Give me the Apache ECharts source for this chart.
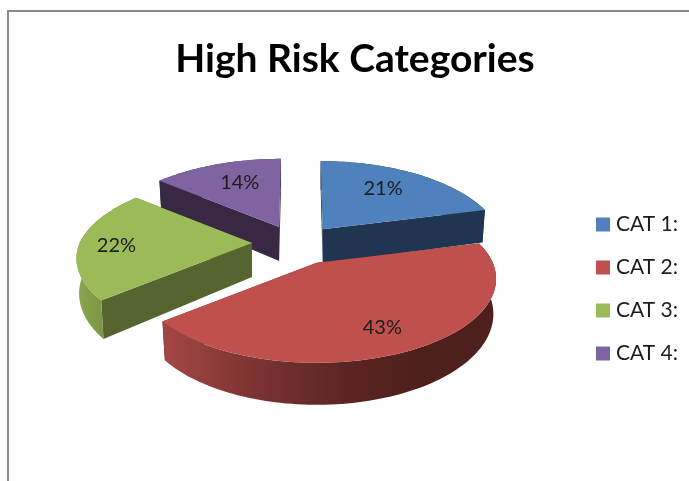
<!DOCTYPE html>
<html>
<head>
<meta charset="utf-8">
<style>html,body{margin:0;padding:0;background:#fff}#c{width:689px;height:481px}</style>
<script src="https://cdn.jsdelivr.net/npm/echarts@6/dist/echarts.min.js"></script>
</head>
<body>
<div id="c"></div>
<script>
const titleText = 'High Risk Categories';
const categories = ['CAT 1:', 'CAT 2:', 'CAT 3:', 'CAT 4:'];
const percentages = [21, 43, 22, 14];

// Drawing style and projection of the tilted pie
const topColors = ['#4f81bd', '#c0504d', '#9bbb59', '#8064a2'];
const cutColors = ['#1f3552', '#4e1f1d', '#566430', '#382843'];
const explodeX = [37, 37, 48, 49];
const liftY = [0, 0, 2, 0];
const sliceScale = [1, 1, 0.98, 1];
const labelRadius = [0.68, 0.72, 0.77, 0.68];
const labelNudge = [[-5, -1], [0, 6], [0, 3], [5, 0]];
const pie = {cx: 300, cy: 245, explodeY: 20, rx: 176, ry: 81, persp: 0.19, depth: 34, shrink: 0.985, tilt: 0.09};
const fontName = 'Lato';

const wallFills = [
  '#1f3552',
  {type: 'linear', x: 163, y: 0, x2: 420, y2: 0, global: true, colorStops: [
    {offset: 0, color: '#a34745'}, {offset: 0.35, color: '#7c3432'},
    {offset: 0.7, color: '#5c2524'}, {offset: 1, color: '#4e1f1d'}]},
  {type: 'linear', x: 77, y: 0, x2: 105, y2: 0, global: true, colorStops: [
    {offset: 0, color: '#8aa64f'}, {offset: 1, color: '#7a9445'}]},
  '#382843'
];

const total = percentages.reduce((a, b) => a + b, 0);
const startFractions = [];
percentages.reduce((sum, v, i) => { startFractions[i] = sum / total; return sum + v; }, 0);

function sliceVertex(i) {
  const mid = (startFractions[i] + percentages[i] / total / 2) * 2 * Math.PI;
  return [pie.cx + explodeX[i] * Math.sin(mid), pie.cy - pie.explodeY * Math.cos(mid) - liftY[i]];
}
function project(v, angle, r) {
  const w = 1 + pie.persp * Math.cos(angle) * r;
  const dy = -pie.ry * Math.cos(angle) * r / w;
  const lean = dy < 0 ? -(pie.cx - v[0]) * dy / 68 * pie.tilt : 0;
  const dx = pie.rx * Math.sin(angle) * r / w + lean;
  return [v[0] + dx, v[1] + dy, w];
}
function drop(v, p) {
  return [v[0] + (p[0] - v[0]) * pie.shrink, p[1] + pie.depth / p[2]];
}
function renderSlice(i) {
  return function () {
    const v = sliceVertex(i);
    const a0 = startFractions[i] * 2 * Math.PI;
    const a1 = a0 + percentages[i] / total * 2 * Math.PI;
    const steps = Math.max(8, Math.round((a1 - a0) / (Math.PI / 120)));
    const arc = [];
    for (let k = 0; k <= steps; k++) arc.push(project(v, a0 + (a1 - a0) * k / steps, sliceScale[i]));
    const arcTop = arc.map(p => [p[0], p[1]]);
    const arcBottom = arc.map(p => drop(v, p));
    const vBottom = [v[0], v[1] + pie.depth];
    const first = arcTop[0], last = arcTop[steps];
    const mid = (a0 + a1) / 2;
    const lp = project(v, mid, labelRadius[i]);
    return {
      type: 'group',
      children: [
        {type: 'polygon', shape: {points: [v, first, arcBottom[0], vBottom]}, style: {fill: cutColors[i]}},
        {type: 'polygon', shape: {points: [v, last, arcBottom[steps], vBottom]}, style: {fill: cutColors[i]}},
        {type: 'polygon', shape: {points: arcTop.concat(arcBottom.slice().reverse())},
          style: {fill: wallFills[i]}},
        {type: 'polygon', shape: {points: [v].concat(arcTop)}, style: {fill: topColors[i]}},
        {type: 'text', x: lp[0] + labelNudge[i][0], y: lp[1] + labelNudge[i][1], style: {
          text: percentages[i] + '%', fill: '#1c1c1c', font: '20px ' + fontName,
          textAlign: 'center', textVerticalAlign: 'middle'}}
      ]
    };
  };
}

const chart = echarts.init(document.getElementById('c'), null, {renderer: 'canvas'});
chart.setOption({
  animation: false,
  backgroundColor: '#ffffff',
  title: {
    text: titleText, left: 350, top: 35, textAlign: 'center',
    textStyle: {fontFamily: fontName, fontWeight: 'bold', fontSize: 39, color: '#000'}
  },
  legend: {
    data: categories, orient: 'vertical', left: 591, top: 209,
    itemWidth: 14, itemHeight: 14, itemGap: 22, icon: 'rect', selectedMode: false,
    textStyle: {fontFamily: fontName, fontSize: 21, lineHeight: 14, color: '#1c1c1c', padding: [0, 0, 0, 1]}
  },
  graphic: [{
    type: 'polyline', silent: true, shape: {points: [[8, 481], [8, 11], [689, 11]]},
    style: {fill: 'none', stroke: '#8a8a8a', lineWidth: 2}
  }],
  series: [3, 0, 2, 1].map(i => ({
    type: 'custom', name: categories[i], coordinateSystem: 'none',
    itemStyle: {color: topColors[i]}, data: [percentages[i]],
    renderItem: renderSlice(i), silent: true
  }))
});
</script>
</body>
</html>
